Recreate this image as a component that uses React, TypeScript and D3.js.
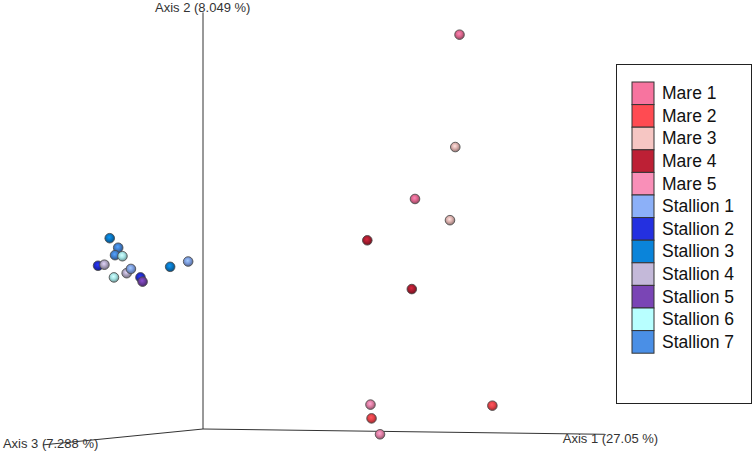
import React, { useEffect, useRef } from "react";
import * as d3 from "d3";

// series names + legend colours
const seriesNames = [
  "Mare 1", "Mare 2", "Mare 3", "Mare 4", "Mare 5",
  "Stallion 1", "Stallion 2", "Stallion 3", "Stallion 4", "Stallion 5", "Stallion 6", "Stallion 7",
];
const seriesColors = [
  "#f7749f", "#ff4b52", "#f6c6c3", "#bd2035", "#f98fb8",
  "#8cb0f8", "#2430e0", "#0a84da", "#c4b9d9", "#7a45b5", "#b8ffff", "#4a8fe6",
];

// projected ordination coordinates (screen plane of the 3D view)
const pointSeries = [
  "Mare 1", "Mare 3", "Mare 1", "Mare 3", "Mare 4", "Mare 4", "Mare 5", "Mare 2", "Mare 5", "Mare 2",
  "Stallion 3", "Stallion 7", "Stallion 7", "Stallion 6", "Stallion 2", "Stallion 4", "Stallion 6",
  "Stallion 4", "Stallion 1", "Stallion 2", "Stallion 5", "Stallion 3", "Stallion 1",
];
const pointX = [
  0.242, 0.238, 0.200, 0.233, 0.155, 0.197, 0.158, 0.159, 0.167, 0.273,
  -0.088, -0.080, -0.083, -0.076, -0.099, -0.093, -0.084, -0.072, -0.068, -0.059, -0.057, -0.031, -0.014,
];
const pointY = [
  0.372, 0.266, 0.217, 0.197, 0.178, 0.132, 0.023, 0.010, -0.005, 0.022,
  0.180, 0.171, 0.164, 0.163, 0.154, 0.155, 0.143, 0.147, 0.151, 0.143, 0.139, 0.153, 0.158,
];

// axis end points in the same projected plane
const axisNames = ["Axis 1 (27.05 %)", "Axis 2 (8.049 %)", "Axis 3 (7.288 %)"];
const axisEndX = [0.379, 0, -0.151];
const axisEndY = [-0.005, 0.393, -0.015];

export default function App() {
  const ref = useRef<SVGSVGElement>(null);

  useEffect(() => {
    const svg = d3.select(ref.current);
    svg.selectAll("*").remove();

    const x = d3.scaleLinear().domain([-0.1, 0.3]).range([97, 521]);
    const y = d3.scaleLinear().domain([0, 0.4]).range([429, 5]);
    const color = d3.scaleOrdinal<string, string>().domain(seriesNames).range(seriesColors);

    // sphere-ish gradients
    const defs = svg.append("defs");
    seriesNames.forEach((name, i) => {
      const c = d3.color(seriesColors[i])!;
      const g = defs.append("radialGradient")
        .attr("id", "g" + i)
        .attr("cx", "45%").attr("cy", "40%").attr("r", "62%");
      g.append("stop").attr("offset", "0%").attr("stop-color", d3.color(c)!.brighter(0.4).toString());
      g.append("stop").attr("offset", "45%").attr("stop-color", d3.color(c)!.darker(0.3).toString());
      g.append("stop").attr("offset", "100%").attr("stop-color", d3.color(c)!.darker(1.6).toString());
    });

    // axis labels (drawn under the axis lines)
    const labelPos = [
      { dx: -42, dy: 9 },
      { dx: -48, dy: 0 },
      { dx: -40, dy: 3 },
    ];
    axisNames.forEach((t, i) => {
      svg.append("text")
        .attr("x", x(axisEndX[i]) + labelPos[i].dx)
        .attr("y", y(axisEndY[i]) + labelPos[i].dy)
        .attr("font-family", "Liberation Sans, Arial, sans-serif")
        .attr("font-size", 13)
        .attr("fill", "#333")
        .text(t);
    });

    // axis lines from origin
    axisNames.forEach((_, i) => {
      svg.append("line")
        .attr("x1", x(0)).attr("y1", y(0))
        .attr("x2", x(axisEndX[i])).attr("y2", y(axisEndY[i]))
        .attr("stroke", "#333")
        .attr("stroke-width", 1);
    });

    // points
    svg.append("g")
      .selectAll("circle")
      .data(pointX.map((v, i) => ({ x: v, y: pointY[i], s: pointSeries[i] })))
      .enter()
      .append("circle")
      .attr("cx", d => x(d.x))
      .attr("cy", d => y(d.y))
      .attr("r", 4.8)
      .attr("fill", d => "url(#g" + seriesNames.indexOf(d.s) + ")")
      .attr("stroke", "#4a4a4a")
      .attr("stroke-opacity", 0.85)
      .attr("stroke-width", 1);

    // legend
    const legend = svg.append("g");
    legend.append("rect")
      .attr("x", 616.5).attr("y", 64.5)
      .attr("width", 135).attr("height", 339)
      .attr("fill", "#fff")
      .attr("stroke", "#222")
      .attr("stroke-width", 1);
    const rowH = 22.6;
    const rows = legend.selectAll("g.row")
      .data(seriesNames)
      .enter()
      .append("g")
      .attr("class", "row")
      .attr("transform", (d, i) => "translate(632," + (82 + i * rowH) + ")");
    rows.append("rect")
      .attr("width", 22).attr("height", rowH)
      .attr("fill", d => color(d))
      .attr("stroke", "#333")
      .attr("stroke-width", 1);
    rows.append("text")
      .attr("x", 30)
      .attr("y", rowH / 2 + 6)
      .attr("font-family", "Liberation Sans, Arial, sans-serif")
      .attr("font-size", 17.5)
      .attr("fill", "#111")
      .text(d => d);
  }, []);

  return (
    <div style={{ position: "absolute", left: 0, top: 0 }}>
      <svg ref={ref} width={756} height={451} style={{ display: "block", background: "#fff" }} />
    </div>
  );
}
